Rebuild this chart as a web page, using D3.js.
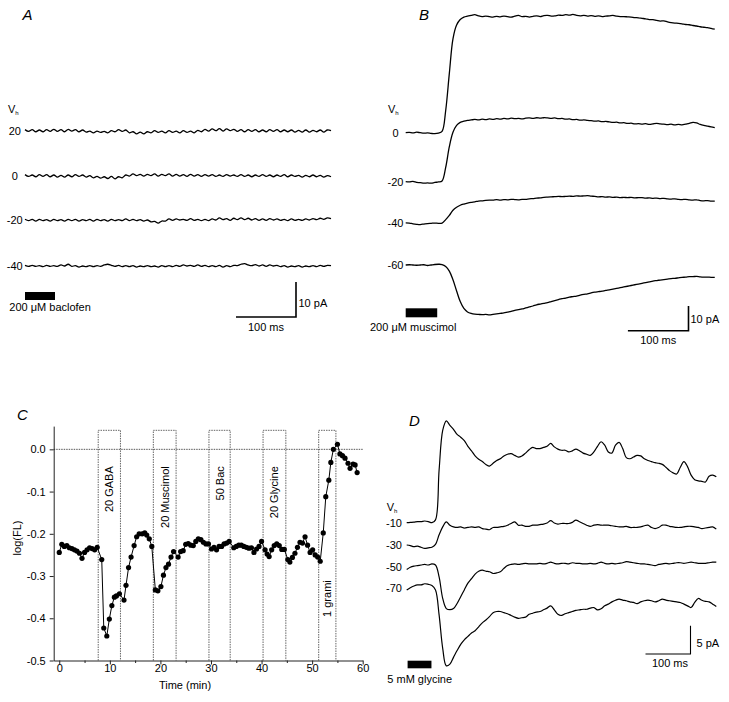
<!DOCTYPE html>
<html>
<head>
<meta charset="utf-8">
<script src="https://cdn.jsdelivr.net/npm/d3@7"></script>
<style>
  body { margin: 0; background: #fff; }
  text { font-family: "Liberation Sans", Arial, sans-serif; font-size: 11px; fill: #000; }
</style>
</head>
<body>
<svg id="fig" width="729" height="702"></svg>
<script>
// ---------- panel A: baclofen, currents in pA, one sample every 6 ms ----------
var aHolding = ["20", "0", "-20", "-40"];
var aDt = 6;
var aTrace20 = [0.3,-0.2,0.3,-0.3,0.2,-0.3,0.3,-0.2,0.4,-0.2,
  0.3,-0.3,0.4,-0.1,0.3,-0.3,0.2,-0.4,-0.1,-0.6,
  -0.1,-0.5,-0.2,-0.6,0,-0.3,0.3,-0.2,0.2,-0.6,
  -0.3,-0.9,-0.4,-0.9,-0.3,-0.6,0,-0.5,-0.1,-0.6,
  0,-0.5,-0.1,-0.6,0,-0.5,-0.1,-0.6,0.1,-0.3,
  0.4,-0.1,0.5,0,0.6,-0.1,0.5,0,0.4,-0.2,
  0.3,-0.3,0.3,-0.2,0.3,-0.3,0.2,-0.3,0.3,-0.2,
  0.3,-0.3,0.2,-0.3,0.2,-0.4,0.1,-0.4,0.2,-0.4,
  0.1,-0.3,0.2,-0.4,0.2,0];
var aTrace0 = [0.3,-0.2,0.2,-0.3,0.3,-0.2,0.3,-0.3,0.2,-0.4,
  0.1,-0.4,0.2,-0.3,0.3,-0.2,0.2,-0.4,0,-0.6,
  -0.2,-0.7,-0.3,-0.8,-0.2,-0.9,-0.3,-0.6,0.2,-0.1,
  0.5,0,0.4,-0.1,0.4,0,0.5,-0.1,0.4,0,
  0.5,-0.1,0.4,-0.1,0.3,-0.2,0.4,-0.1,0.3,-0.2,
  0.3,-0.1,0.3,-0.2,0.2,-0.2,0.3,-0.1,0.2,-0.2,
  0.3,-0.2,0.2,-0.3,0.2,-0.2,0.3,-0.2,0.2,-0.3,
  0.2,-0.2,0.3,-0.3,0.2,-0.2,0.1,-0.4,0.1,-0.3,
  0.2,-0.3,0.1,-0.4,0,-0.3];
var aTraceM20 = [0.2,-0.2,0.2,-0.3,0.2,-0.2,0.1,-0.3,0.2,-0.2,
  0.1,-0.3,0.2,-0.2,0.2,-0.3,0.1,-0.2,0.2,-0.3,
  0.2,-0.2,0.1,-0.3,0.2,-0.2,0.1,-0.2,0.3,-0.2,
  0.2,-0.2,0.1,-0.3,0,-0.5,-0.4,-0.9,-0.3,-0.3,
  0.3,-0.1,0.3,0,0.2,-0.1,0.4,-0.1,0.2,-0.2,
  0.2,-0.2,0.3,0,0.6,0.1,0.4,-0.1,0.5,0.1,
  0.6,0.1,0.5,0,0.4,-0.1,0.3,-0.1,0.4,0,
  0.3,-0.1,0.2,-0.2,0.3,-0.1,0.2,-0.1,0.3,0,
  0.4,0.1,0.5,0.2,0.6,0.4];
var aTraceM40 = [0.2,-0.1,0.2,-0.1,0.1,-0.2,0.2,-0.1,0.1,-0.1,
  0.3,0,0.5,-0.1,0.1,-0.3,0,-0.2,0.1,-0.2,
  0.1,-0.1,0.3,0.5,0.2,-0.1,0.2,-0.2,0.1,-0.2,
  0.1,-0.3,0,-0.2,0.1,-0.2,0,-0.3,0.1,-0.2,
  0.1,-0.2,0.2,-0.1,0.3,0,0.2,-0.1,0.3,-0.1,
  0.2,-0.2,0.1,-0.2,0.2,-0.3,0.1,-0.2,0.2,0.1,
  0.5,0.7,0.3,0.1,0.4,0,0.3,-0.1,0.3,0,
  0.2,-0.2,0.1,-0.3,0,-0.2,0.1,-0.3,0,-0.2,
  0.1,-0.2,0.2,-0.1,0.2,0.1];
var aStim = [0, 50];

// ---------- panel B: muscimol, pA, one sample every 6 ms ----------
var bHolding = ["0", "-20", "-40", "-60"];
var bDt = 6;
var bTrace0 = [0,0.1,-0.1,0.2,0,-0.2,-0.1,-0.3,-0.4,-0.2,
  0.5,9,24,38,43.6,45.8,46.8,47.2,47.5,47.8,
  47.3,47.0,47.2,47.0,46.8,47.1,46.9,47.2,47.0,46.8,
  47.2,47.5,47.0,47.1,46.8,47.1,47.3,47.0,47.4,47.5,
  47.2,47.3,47.6,47.5,47.8,47.6,47.9,47.5,47.3,47.5,
  47.2,47.4,47.1,47.3,47.0,47.2,47.3,47.5,47.2,47.0,
  47.0,46.9,46.8,46.6,46.5,46.3,46.1,45.8,45.8,45.5,
  45.2,45.3,44.9,44.6,44.4,44.3,44.1,43.8,43.7,43.4,
  43.2,42.9,42.7,42.5,42.2,41.9];
var bTraceM20 = [0,-0.1,0.1,-0.3,-0.4,-0.6,-0.5,-0.6,-0.3,-0.1,
  0.3,5.8,14.2,20,22.8,24,24.5,24.8,25,25.2,
  25,25.3,25.1,25.4,25.2,25.5,25.3,25.6,25.4,25.7,
  25.5,25.6,25.4,25.7,25.8,25.6,25.9,25.7,25.9,25.8,
  25.6,25.8,25.5,25.6,25.3,25.4,25.1,25.2,24.9,25.0,
  24.8,24.7,24.5,24.6,24.3,24.4,24.2,24.0,24.1,23.8,
  23.9,23.6,23.7,23.4,23.5,23.3,23.5,23.2,23.4,23.6,
  23.4,23.3,23.1,23.3,23.0,23.2,23.0,23.3,23.6,24.0,
  23.8,23.2,22.8,22.5,22.2,21.9];
var bTraceM40 = [0.2,0.1,-0.2,-0.4,-0.5,-0.3,-0.1,0,0.1,0,
  0.1,1.5,3.2,5.3,6.5,7.3,7.8,8.2,8.5,8.7,
  9.0,9.1,9.3,9.4,9.4,9.6,9.4,9.6,9.5,9.7,
  9.6,9.5,9.7,9.7,9.9,10.0,10.2,10.3,10.5,10.6,
  10.7,10.8,10.9,10.8,10.9,11.0,10.9,11.1,11.0,11.1,
  11.2,11.0,10.9,10.7,10.8,10.6,10.7,10.5,10.6,10.4,
  10.5,10.4,10.5,10.3,10.4,10.4,10.2,10.3,10.1,10.2,
  10.0,10.1,9.9,9.8,9.9,9.7,9.6,9.7,9.5,9.4,
  9.5,9.2,9.1,9.2,9.0,9.0];
var bTraceM60 = [0,0.1,0,-0.1,0,0.1,-0.2,0,0.2,0.3,
  0.2,-0.6,-2.5,-6.0,-10.5,-14.8,-17.6,-19.0,-19.6,-19.9,
  -20.0,-20.1,-20.0,-20.2,-20.0,-19.8,-19.6,-19.4,-19.1,-18.8,
  -18.4,-18.1,-17.8,-17.4,-17.0,-16.6,-16.1,-15.8,-15.5,-15.2,
  -14.8,-14.4,-14.0,-13.6,-13.4,-13.0,-12.8,-12.6,-12.2,-11.9,
  -11.7,-11.3,-11.0,-10.8,-10.6,-10.3,-10.1,-9.8,-9.5,-9.2,
  -8.9,-8.6,-8.3,-8.0,-7.7,-7.4,-7.1,-6.8,-6.5,-6.3,
  -6.1,-5.9,-5.7,-5.5,-5.4,-5.2,-5.0,-4.9,-4.7,-4.7,
  -4.6,-4.8,-4.9,-4.9,-5.0,-5.0];
var bStim = [0, 52];

// ---------- panel C: log(FL) vs time (min) ----------
var cTime = [0,0.5,1,1.5,2,2.5,3,3.5,4,4.5,
  5,5.5,6,6.5,7,7.5,8.4,8.8,9.4,9.9,
  10.4,10.9,11.3,11.9,12.8,13.2,13.7,14.2,14.8,15.3,
  15.8,16.4,16.9,17.3,17.8,18.3,19.0,19.5,20.1,20.6,
  21.1,21.6,22.1,22.6,23.5,24,24.5,25,25.5,26,
  26.5,27,27.5,28,28.5,29,29.5,30.1,30.6,31.1,
  31.6,32.1,32.6,33.1,33.6,34.5,35,35.5,36,36.5,
  37,37.5,38,38.5,39,39.5,40,40.7,41.1,41.5,
  42,42.5,43,43.5,44,44.5,45.2,45.6,46.1,46.6,
  47.1,47.6,48.1,48.6,49.1,49.6,50.1,50.6,51.1,51.6,
  52.2,52.7,53.3,53.7,54.2,55.0,55.5,56,56.5,57.1,
  57.5,58.1,58.5,58.9];
var cLogFL = [-0.244,-0.225,-0.23,-0.228,-0.233,-0.235,-0.238,-0.241,-0.246,-0.258,
  -0.244,-0.238,-0.233,-0.235,-0.238,-0.232,-0.261,-0.423,-0.442,-0.402,
  -0.37,-0.35,-0.347,-0.342,-0.357,-0.322,-0.28,-0.255,-0.228,-0.207,
  -0.2,-0.2,-0.198,-0.203,-0.212,-0.23,-0.333,-0.335,-0.325,-0.298,
  -0.28,-0.272,-0.255,-0.242,-0.255,-0.242,-0.24,-0.225,-0.223,-0.227,
  -0.228,-0.218,-0.212,-0.214,-0.22,-0.224,-0.224,-0.236,-0.232,-0.238,
  -0.23,-0.23,-0.224,-0.222,-0.218,-0.233,-0.23,-0.227,-0.227,-0.23,
  -0.232,-0.234,-0.233,-0.244,-0.236,-0.23,-0.218,-0.238,-0.248,-0.254,
  -0.238,-0.228,-0.224,-0.228,-0.237,-0.237,-0.261,-0.267,-0.256,-0.246,
  -0.232,-0.22,-0.222,-0.207,-0.227,-0.244,-0.238,-0.25,-0.255,-0.265,
  -0.198,-0.112,-0.073,-0.031,0.0,0.012,-0.011,-0.015,-0.021,-0.033,
  -0.045,-0.035,-0.037,-0.055];
var cBoxStart = [7.7, 18.6, 29.6, 40.3, 51.3];
var cBoxEnd = [12.1, 23.1, 33.8, 44.8, 54.7];
var cBoxLabel = ["20 GABA", "20 Muscimol", "50 Bac", "20 Glycine", "1 grami"];
var cBoxLabelAt = [-0.04, -0.04, -0.04, -0.04, -0.31];
var cBoxTop = 0.045;
var cXTicks = [0, 10, 20, 30, 40, 50, 60];
var cXMinor = [5, 15, 25, 35, 45, 55];
var cYTicks = [0, -0.1, -0.2, -0.3, -0.4, -0.5];
var cYTickLabels = ["0.0", "-0.1", "-0.2", "-0.3", "-0.4", "-0.5"];

// ---------- panel D: glycine, pA, one sample every 8 ms ----------
var dHolding = ["-10", "-30", "-50", "-70"];
var dDt = 8;
var dTraceM10 = [0,0.05,0.1,0.2,0.2,0.3,0.2,0,0.5,9.3,
  16.3,18.0,17.2,16.5,15.6,15.1,14.5,13.5,12.7,11.8,
  11.2,10.8,10.3,10.0,10.5,11.0,11.3,11.8,12.1,12.2,
  11.9,11.6,11.8,12.3,12.9,13.3,13.1,13.1,13.3,13.5,
  14.0,13.4,13.0,12.8,12.8,12.5,12.7,13.0,12.7,12.3,
  12.1,11.9,12.5,13.5,14.3,13.7,12.5,12.3,13.7,14.2,
  13.1,11.5,11.3,11.6,11.9,11.8,11.3,11.0,10.8,10.6,
  10.5,10.3,9.8,9.2,8.8,8.6,9.8,10.8,9.9,8.4,
  7.6,7.4,7.3,7.2,8.2,8.4,8.1];
var dTraceM30 = [0,-0.1,-0.3,-0.2,-0.4,-0.6,-0.5,-0.4,0.1,1.8,
  3.2,4.1,3.5,3.2,3.1,3.2,3.0,3.1,3.2,3.1,
  3.2,2.9,2.8,2.7,3.1,3.1,3.2,3.3,3.5,3.8,
  4.1,3.5,3.5,3.3,3.3,3.5,3.5,3.6,3.7,3.9,
  4.3,3.9,3.7,3.8,3.8,3.8,4.0,4.4,4.1,3.8,
  3.5,3.3,3.5,3.6,3.5,3.5,3.5,3.4,3.3,3.2,
  3.2,3.3,3.1,3.1,3.1,3.2,3.4,3.5,3.1,2.9,
  3.1,3.5,3.5,3.3,3.2,3.1,3.1,3.2,3.3,3.3,
  3.2,3.1,2.9,3.0,3.1,3.2,2.8];
var dTraceM50 = [-0.5,-0.1,0.1,0.2,0.3,0.4,0.3,0.5,0.3,-1.8,
  -5.6,-7.4,-7.6,-7.4,-6.5,-5.3,-4.1,-2.9,-2.1,-1.3,
  -0.8,-0.6,-0.8,-0.9,-1.2,-1.1,-0.9,-0.3,0.2,0.4,
  0.5,0.4,0.5,0.6,0.5,0.5,0.5,0.6,0.5,0.6,
  0.8,0.6,0.5,0.6,0.6,0.5,0.7,0.6,0.6,0.5,
  0.5,0.6,0.5,0.6,0.8,0.6,0.5,0.6,0.5,0.6,
  0.7,0.9,0.8,0.7,0.6,0.5,0.5,0.4,0.3,0.2,
  0.4,0.5,0.6,0.5,0.6,0.7,0.7,0.6,0.7,0.8,
  0.7,0.6,0.6,0.6,0.7,0.8,0.8];
var dTraceM70 = [-0.3,0.1,0.4,0.6,0.6,0.8,0.7,0.5,-0.3,-4.7,
  -10.6,-13.7,-13.4,-12.2,-11.0,-9.9,-9.1,-8.5,-7.9,-7.5,
  -6.8,-6.1,-5.6,-5.0,-4.3,-4.1,-4.1,-4.3,-4.5,-4.8,
  -5.1,-5.3,-5.2,-5.1,-4.6,-4.4,-4.2,-4.1,-3.8,-3.5,
  -3.1,-3.8,-4.6,-4.8,-4.5,-4.3,-4.1,-3.9,-3.8,-3.7,
  -3.7,-3.5,-3.4,-3.8,-3.6,-3.1,-2.8,-2.4,-2.1,-1.9,
  -2.1,-2.2,-2.4,-2.5,-2.7,-2.4,-2.2,-2.1,-2.2,-2.4,
  -2.2,-1.9,-2.1,-2.2,-2.3,-2.4,-2.5,-2.8,-3.1,-3.4,
  -2.5,-1.8,-2.1,-2.3,-2.4,-2.8,-3.2];
var dStim = [2, 55];

var svg = d3.select("#fig");

function tracePanel(p) {
    var g = svg.append("g");
    // time and current scales; 100 ms and the scale-bar current set the pixel size
    var x = d3.scaleLinear().domain([0, 100]).range([p.x0, p.x0 + p.px100ms]);
    var y = d3.scaleLinear().domain([0, p.barPa]).range([0, -p.barPx]);
    var line = d3.line()
        .x(function (d, i) { return x(i * p.dt); })
        .y(function (d) { return y(d); })
        .curve(d3.curveCatmullRom);

    p.traces.forEach(function (tr, k) {
        g.append("path")
            .datum(tr)
            .attr("transform", "translate(0," + p.base[k] + ")")
            .attr("d", line)
            .attr("fill", "none")
            .attr("stroke", "#000")
            .attr("stroke-width", p.lw)
            .attr("stroke-linejoin", "round");
        g.append("text")
            .attr("x", p.labelX)
            .attr("y", p.base[k])
            .attr("dy", "0.35em")
            .attr("text-anchor", "middle")
            .text(p.holding[k]);
    });

    var vh = g.append("text").attr("x", p.vh[0]).attr("y", p.vh[1]).text("V");
    vh.append("tspan").attr("dy", 2).style("font-size", "6px").text("h");

    g.append("rect")
        .attr("x", x(p.stim[0]))
        .attr("width", x(p.stim[1]) - x(p.stim[0]))
        .attr("y", p.stimY)
        .attr("height", p.stimH)
        .attr("fill", "#000");
    g.append("text").attr("x", p.stimText[0]).attr("y", p.stimText[1]).text(p.stimLabel);

    // scale bar
    var cx = p.corner[0], cy = p.corner[1];
    var w = x(100) - x(0);
    var h = y(0) - y(p.barPa);
    g.append("path")
        .attr("d", "M" + (cx - w) + "," + cy + "H" + cx + "V" + (cy - h))
        .attr("fill", "none")
        .attr("stroke", "#000")
        .attr("stroke-width", p.sbw);
    g.append("text").attr("x", p.paText[0]).attr("y", p.paText[1]).text(p.barPa + " pA");
    g.append("text").attr("x", cx - w / 2 + p.msShift).attr("y", p.msY)
        .attr("text-anchor", "middle").text("100 ms");

    g.append("text")
        .attr("x", p.letter[0]).attr("y", p.letter[1])
        .style("font-size", "15px").style("font-style", "italic")
        .text(p.name);
}

tracePanel({
    name: "A", letter: [22.5, 19.5],
    x0: 25, px100ms: 60, barPa: 10, barPx: 35, dt: aDt, lw: 1.3,
    traces: [aTrace20, aTrace0, aTraceM20, aTraceM40], holding: aHolding,
    base: [130.7, 175.7, 220, 266], labelX: 14.8, vh: [8, 113],
    stim: aStim, stimY: 292, stimH: 8, stimText: [9.3, 310.5], stimLabel: "200 \u03bcM baclofen",
    corner: [296, 317], sbw: 1.6, paText: [298.5, 307], msY: 330.5, msShift: 0
});

tracePanel({
    name: "B", letter: [419, 20],
    x0: 405.7, px100ms: 60.6, barPa: 10, barPx: 24.7, dt: bDt, lw: 1.3,
    traces: [bTrace0, bTraceM20, bTraceM40, bTraceM60], holding: bHolding,
    base: [132.7, 181.7, 223.3, 265], labelX: 395.5, vh: [388, 113],
    stim: bStim, stimY: 308.3, stimH: 9, stimText: [370, 331], stimLabel: "200 \u03bcM muscimol",
    corner: [688.5, 330.7], sbw: 1.6, paText: [690.5, 323], msY: 344, msShift: 0
});

tracePanel({
    name: "D", letter: [409, 426],
    x0: 406.7, px100ms: 45, barPa: 5, barPx: 28.3, dt: dDt, lw: 1.2,
    traces: [dTraceM10, dTraceM30, dTraceM50, dTraceM70], holding: dHolding,
    base: [522.7, 545, 566.7, 588.3], labelX: 394, vh: [386.7, 511],
    stim: dStim, stimY: 660.7, stimH: 7.6, stimText: [387.3, 683], stimLabel: "5 mM glycine",
    corner: [690.5, 654], sbw: 1.1, paText: [696.5, 646.5], msY: 666.5, msShift: 2
});

// ---------- panel C ----------
var xC = d3.scaleLinear().domain([-1.1, 60]).range([53.7, 362.7]);
var yC = d3.scaleLinear().domain([-0.5, 0.055]).range([660.5, 426.1]);
var gC = svg.append("g");

// treatment windows
cBoxStart.forEach(function (s, i) {
    gC.append("path")
        .attr("d", "M" + xC(s) + "," + yC(-0.5) + "V" + yC(cBoxTop) + "H" + xC(cBoxEnd[i]) + "V" + yC(-0.5))
        .attr("fill", "none")
        .attr("stroke", "#555")
        .attr("stroke-width", 0.9)
        .attr("stroke-dasharray", "1.5,1");
    var cxm = (xC(s) + xC(cBoxEnd[i])) / 2;
    gC.append("text")
        .attr("transform", "translate(" + (cxm + 4) + "," + yC(cBoxLabelAt[i]) + ") rotate(-90)")
        .attr("text-anchor", "end")
        .text(cBoxLabel[i]);
});

gC.append("line")
    .attr("x1", xC(-1.1)).attr("x2", xC(60))
    .attr("y1", yC(0)).attr("y2", yC(0))
    .attr("stroke", "#444").attr("stroke-width", 0.9)
    .attr("stroke-dasharray", "1.5,1");

var xAxis = gC.append("g")
    .attr("transform", "translate(0," + yC(-0.5) + ")")
    .call(d3.axisBottom(xC).tickValues(cXTicks).tickSize(4).tickSizeOuter(0).tickPadding(0)
        .tickFormat(function (d) { return String(d); }));
gC.append("g")
    .attr("transform", "translate(0," + yC(-0.5) + ")")
    .call(d3.axisBottom(xC).tickValues(cXMinor).tickSize(2.5).tickSizeOuter(0).tickFormat(""))
    .select(".domain").remove();
var yAxis = gC.append("g")
    .attr("transform", "translate(" + xC(-1.1) + ",0)")
    .call(d3.axisLeft(yC).tickValues(cYTicks).tickSize(4).tickSizeOuter(0).tickPadding(4)
        .tickFormat(function (d, i) { return cYTickLabels[i]; }));
gC.selectAll(".domain, .tick line").attr("stroke", "#222");
gC.selectAll(".tick text").style("font-size", "11px")
    .style("font-family", "'Liberation Sans', Arial, sans-serif").attr("fill", "#000");

gC.append("path")
    .datum(cTime.map(function (t, i) { return [t, cLogFL[i]]; }))
    .attr("d", d3.line().x(function (d) { return xC(d[0]); }).y(function (d) { return yC(d[1]); }))
    .attr("fill", "none")
    .attr("stroke", "#000")
    .attr("stroke-width", 1);

gC.selectAll(".pt")
    .data(cTime)
    .enter()
    .append("circle")
    .attr("class", "pt")
    .attr("cx", function (d) { return xC(d); })
    .attr("cy", function (d, i) { return yC(cLogFL[i]); })
    .attr("r", 2.6)
    .attr("fill", "#000");

gC.append("text").attr("x", 185).attr("y", 689).attr("text-anchor", "middle").text("Time (min)");
gC.append("text").attr("transform", "translate(21,538) rotate(-90)")
    .attr("text-anchor", "middle").text("log(FL)");
gC.append("text").attr("x", 17).attr("y", 420)
    .style("font-size", "15px").style("font-style", "italic").text("C");
</script>
</body>
</html>
